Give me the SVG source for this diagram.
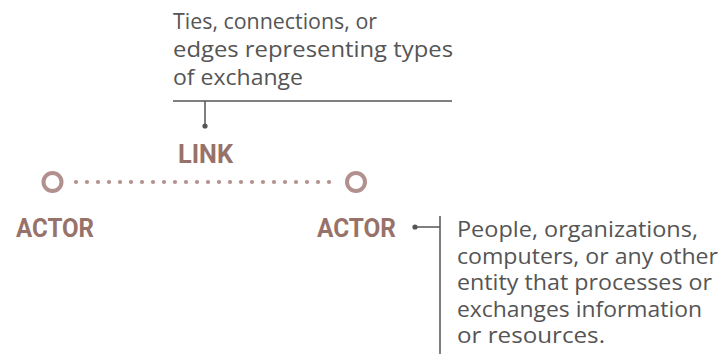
<svg xmlns="http://www.w3.org/2000/svg" width="722" height="354" viewBox="0 0 722 354">
  <style>
    .note { font-family: "Open Sans", "Noto Sans", sans-serif; font-size: 21px; fill: #555555; }
    .label { font-family: "Roboto", "Liberation Sans", sans-serif; font-weight: bold; font-size: 26px; fill: #97726a; }
    .rule { stroke: #555555; stroke-width: 1.5; fill: none; }
    .pin { fill: #555555; }
    .actor { fill: none; stroke: #b2908e; stroke-width: 4; }
    .tie { fill: #b2908e; }
  </style>
  <defs>
    <circle id="bead" r="2.1" class="tie"/>
  </defs>

  <!-- link annotation -->
  <g id="link-note">
    <text class="note" x="173" y="29" textLength="204" lengthAdjust="spacingAndGlyphs">Ties, connections, or</text>
    <text class="note" x="173" y="57" textLength="280" lengthAdjust="spacingAndGlyphs">edges representing types</text>
    <text class="note" x="173" y="85" textLength="130" lengthAdjust="spacingAndGlyphs">of exchange</text>
  </g>

  <!-- actor annotation -->
  <g id="actor-note">
    <text class="note" x="457" y="237" textLength="241" lengthAdjust="spacingAndGlyphs">People, organizations,</text>
    <text class="note" x="457" y="263.5" textLength="261" lengthAdjust="spacingAndGlyphs">computers, or any other</text>
    <text class="note" x="457" y="290" textLength="255" lengthAdjust="spacingAndGlyphs">entity that processes or</text>
    <text class="note" x="457" y="316.5" textLength="245" lengthAdjust="spacingAndGlyphs">exchanges information</text>
    <text class="note" x="457" y="343" textLength="148" lengthAdjust="spacingAndGlyphs">or resources.</text>
  </g>

  <g id="connectors">
    <!-- callout for the link -->
    <path class="rule" d="M173 101 H452 M205 101 V126"/>
    <circle class="pin" cx="205" cy="126" r="2.6"/>
    <!-- callout for the actor -->
    <path class="rule" d="M415 227 H440 M440 216 V354"/>
    <circle class="pin" cx="415" cy="227" r="2.6"/>
    <!-- dotted tie between the two actors -->
    <g id="tie">
      <use href="#bead" x="76" y="182"/><use href="#bead" x="87" y="182"/>
      <use href="#bead" x="98" y="182"/><use href="#bead" x="109" y="182"/>
      <use href="#bead" x="120" y="182"/><use href="#bead" x="131" y="182"/>
      <use href="#bead" x="142" y="182"/><use href="#bead" x="153" y="182"/>
      <use href="#bead" x="164" y="182"/><use href="#bead" x="175" y="182"/>
      <use href="#bead" x="186" y="182"/><use href="#bead" x="197" y="182"/>
      <use href="#bead" x="208" y="182"/><use href="#bead" x="219" y="182"/>
      <use href="#bead" x="230" y="182"/><use href="#bead" x="241" y="182"/>
      <use href="#bead" x="252" y="182"/><use href="#bead" x="263" y="182"/>
      <use href="#bead" x="274" y="182"/><use href="#bead" x="285" y="182"/>
      <use href="#bead" x="296" y="182"/><use href="#bead" x="307" y="182"/>
      <use href="#bead" x="318" y="182"/><use href="#bead" x="329" y="182"/>
    </g>
  </g>

  <g id="link">
    <text class="label" x="178" y="163" textLength="55" lengthAdjust="spacingAndGlyphs">LINK</text>
  </g>

  <g id="actor-left">
    <circle class="actor" cx="52.5" cy="182" r="9"/>
    <text class="label" x="16" y="237" textLength="78" lengthAdjust="spacingAndGlyphs">ACTOR</text>
  </g>

  <g id="actor-right">
    <circle class="actor" cx="356" cy="182" r="9"/>
    <text class="label" x="317" y="237" textLength="79" lengthAdjust="spacingAndGlyphs">ACTOR</text>
  </g>
</svg>
